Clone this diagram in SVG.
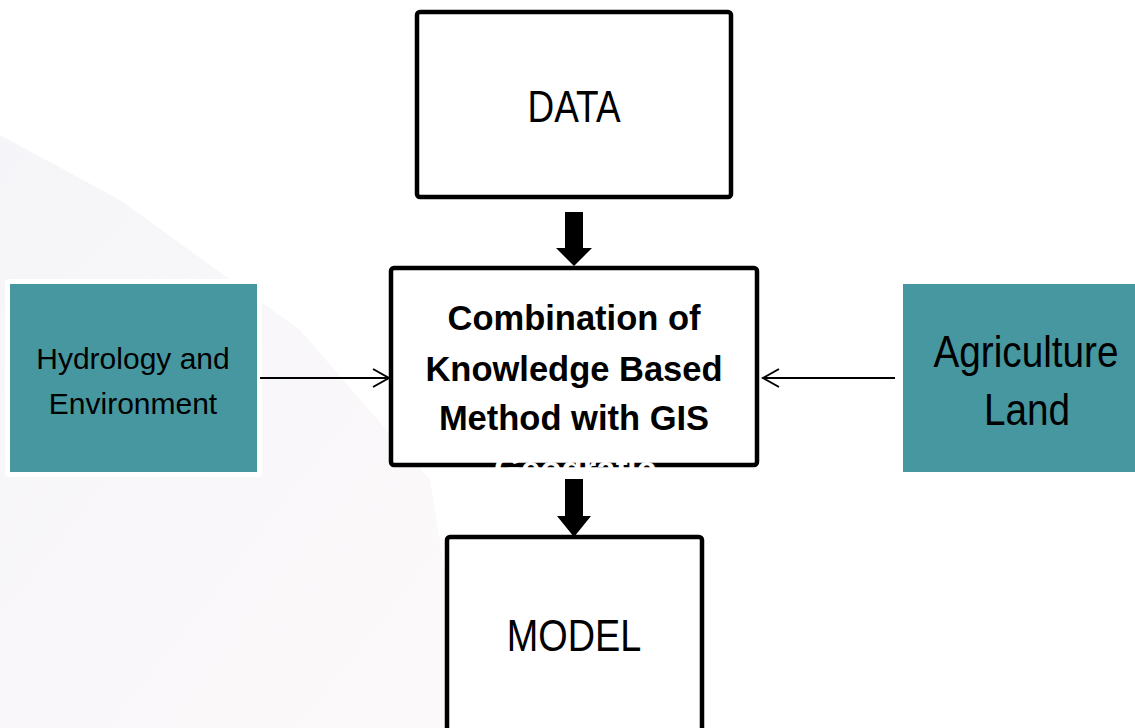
<svg xmlns="http://www.w3.org/2000/svg" width="1135" height="728" viewBox="0 0 1135 728">
<defs>
<style>
.box{fill:#fff;stroke:#000;stroke-width:4.5}
.teal{fill:#46979f}
.lbl{font-family:"Liberation Sans",Arial,sans-serif;fill:#000;text-anchor:middle}
.b{font-weight:bold;font-size:34.5px}
.big{font-size:44px}
.conn{stroke:#000;stroke-width:2;fill:none}
.fat{fill:#000}
</style>
<marker id="open" viewBox="0 0 20 20" refX="18" refY="10" markerWidth="20" markerHeight="20" markerUnits="userSpaceOnUse" orient="auto">
<path d="M2,1 L18,10 L2,19" fill="none" stroke="#000" stroke-width="2"/>
</marker>
<linearGradient id="bg" x1="0" y1="0" x2="1" y2="1">
<stop offset="0" stop-color="#f1f0f5"/>
<stop offset="1" stop-color="#fbf7f8"/>
</linearGradient>
</defs>
<rect width="1135" height="728" fill="#fff"/>
<path d="M0,135 L120,200 L300,330 L430,480 L470,728 L0,728 Z" fill="url(#bg)" opacity="0.7"/>

<g id="data">
<rect class="box" x="417" y="12" width="314" height="185" rx="3"/>
<text class="lbl big" transform="translate(574,122) scale(0.84,1)">DATA</text>
</g>

<g id="combination">
<rect class="box" x="391" y="268" width="366" height="197" rx="3"/>
<text class="lbl b" x="574" y="330">Combination of</text>
<text class="lbl b" x="574" y="381">Knowledge Based</text>
<text class="lbl b" x="574" y="430">Method with GIS</text>
<text x="575" y="480" font-family="Liberation Sans,Arial,sans-serif" font-weight="bold" font-size="34" fill="#fff" text-anchor="middle" textLength="162" lengthAdjust="spacingAndGlyphs">Geografic</text>
</g>

<g id="model">
<rect class="box" x="447" y="537" width="255" height="200" rx="3"/>
<text class="lbl big" transform="translate(574,651) scale(0.86,1)">MODEL</text>
</g>

<g id="hydrology">
<rect x="5" y="279" width="257" height="198" rx="4" fill="#fff"/>
<rect class="teal" x="10" y="284" width="247" height="188"/>
<text class="lbl" x="133" y="369" font-size="30">Hydrology and</text>
<text class="lbl" x="133" y="414" font-size="30">Environment</text>
</g>

<g id="agriculture">
<rect class="teal" x="903" y="284" width="232" height="188"/>
<text class="lbl big" transform="translate(1026,367) scale(0.88,1)">Agriculture</text>
<text class="lbl big" transform="translate(1027,425) scale(0.88,1)">Land</text>
</g>

<g id="connectors">
<path class="fat" d="M565,212 H583 V248 H592 L574,266 L556,248 H565 Z"/>
<path class="fat" d="M565,479 H583 V516 H591 L574,537 L557,516 H565 Z"/>
<line class="conn" x1="260" y1="378" x2="389" y2="378" marker-end="url(#open)"/>
<line class="conn" x1="895" y1="378" x2="763" y2="378" marker-end="url(#open)"/>
</g>
</svg>
